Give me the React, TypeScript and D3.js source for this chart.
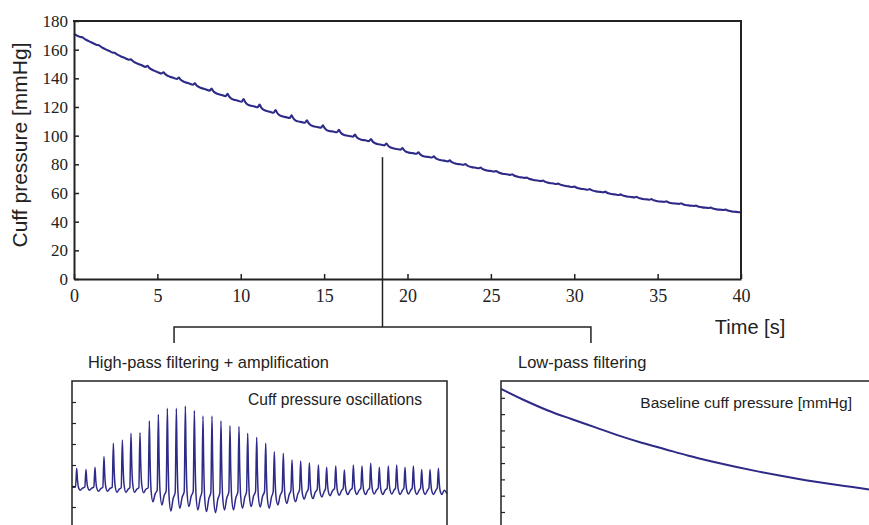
import { useEffect, useRef } from "react";
import * as d3 from "d3";

// smooth cuff pressure (s, mmHg)
const baseTimes = [0, 2.5, 5, 7.5, 10, 12.5, 15, 17.5, 20, 22.5, 25, 27.5, 30, 32.5, 35, 37.5, 40];
const basePressure = [171, 157, 144.5, 134, 124, 114, 105, 97, 89, 82, 75.5, 69.5, 64, 59, 54.5, 50.5, 46.5];

// time of every oscillation peak (s)
const beatTimes = [
  0.5, 1.49, 2.45, 3.41, 4.41, 5.37, 6.29, 7.25, 8.25, 9.21, 10.17, 11.13, 12.09, 13.05,
  13.97, 14.93, 15.89, 16.85, 17.81, 18.74, 19.7, 20.66, 21.58, 22.54, 23.47, 24.39, 25.32,
  26.28, 27.16, 28.13, 29.05, 30.01, 30.93, 31.86, 32.78, 33.74, 34.63, 35.52, 36.41, 37.3,
  38.19, 39.08,
];
// oscillation peak height and the trough after it (tick units)
const beatPeaks = [
  0.84, 0.79, 0.89, 1.4, 2.03, 2.19, 2.51, 2.54, 3.1, 3.41, 3.7, 3.7, 3.81, 3.59, 3.33, 3.33,
  3.1, 2.87, 2.83, 2.51, 2.32, 2.03, 1.63, 1.56, 1.24, 1.19, 1.11, 1.0, 0.89, 0.95, 0.76, 1.0,
  0.95, 1.08, 0.89, 0.95, 1.0, 0.89, 0.95, 0.79, 0.79, 0.84,
];
const beatTroughs = [
  -0.2, -0.2, -0.25, -0.25, -0.3, -0.3, -0.3, -0.32, -0.75, -0.9, -1.19, -1.06, -0.98, -1.14,
  -1.22, -1.27, -1.14, -1.14, -1.06, -0.98, -1.0, -1.06, -0.9, -0.83, -0.75, -0.62, -0.6,
  -0.52, -0.46, -0.44, -0.4, -0.4, -0.4, -0.38, -0.4, -0.38, -0.4, -0.38, -0.4, -0.4, -0.4, -0.4,
];

// shape of one pulse: [offset from peak (s), weight of peak, of trough, of previous trough]
const pulseShape = [
  [-0.12, 0, 0, 0.25],
  [0, 1, 0, 0],
  [0.08, 0.5, 0.5, 0],
  [0.18, 0.15, 0.85, 0],
  [0.38, 0, 1, 0],
  [0.62, 0, 0.5, 0],
];

const timeTicks = [0, 5, 10, 15, 20, 25, 30, 35, 40];
const pressureTicks = [0, 20, 40, 60, 80, 100, 120, 140, 160, 180];
const oscTicks = [-1, 0, 1, 2, 3, 4];
const baselineTicks = [20, 40, 60, 80, 100, 120, 140, 160];

const rippleGain = 0.6; // mmHg per oscillation unit on the raw trace
const markerTime = 18.5;

const INK = "#222";
const TRACE = "#2e2a88";
const SANS = "'Liberation Sans', Arial, sans-serif";
const SERIF = "'Liberation Serif', 'Times New Roman', serif";

const App = () => {
  const ref = useRef(null);

  useEffect(() => {
    const root = d3.select(ref.current);
    root.selectAll("*").remove();
    const svg = root
      .append("svg")
      .attr("width", 869)
      .attr("height", 525)
      .style("position", "absolute")
      .style("left", "0px")
      .style("top", "0px");

    // oscillation points built from the beats
    const osc: [number, number][] = [[0, -0.06]];
    beatTimes.forEach((tp, i) => {
      const prevT = i > 0 ? beatTroughs[i - 1] : beatTroughs[0];
      pulseShape.forEach(([dt, wp, wt, wprev]) => {
        osc.push([tp + dt, wp * beatPeaks[i] + wt * beatTroughs[i] + wprev * prevT]);
      });
    });
    osc.push([40, -0.37]);

    const baseAt = d3.scaleLinear().domain(baseTimes).range(basePressure);
    const raw: [number, number][] = osc.map(([t, v]) => [t, baseAt(t) + rippleGain * v]);
    raw[0] = [0, basePressure[0]];
    raw[raw.length - 1] = [40, basePressure[basePressure.length - 1]];

    // ==== top plot
    const x = d3.scaleLinear().domain([0, 40]).range([74, 741]);
    const y = d3.scaleLinear().domain([0, 180]).range([279, 21]);

    svg
      .append("path")
      .datum(raw)
      .attr("fill", "none")
      .attr("stroke", TRACE)
      .attr("stroke-width", 2.1)
      .attr("stroke-linejoin", "round")
      .attr(
        "d",
        d3
          .line()
          .x((d) => x(d[0]))
          .y((d) => y(d[1]))
          .curve(d3.curveMonotoneX)
      );

    const yAxis = svg
      .append("g")
      .attr("transform", `translate(74,0)`)
      .call(d3.axisLeft(y).tickValues(pressureTicks).tickSizeInner(-5).tickSizeOuter(0).tickPadding(6));
    const xAxis = svg
      .append("g")
      .attr("transform", `translate(0,279)`)
      .call(d3.axisBottom(x).tickValues(timeTicks).tickSizeInner(-5).tickSizeOuter(0).tickPadding(10));
    [yAxis, xAxis].forEach((g) => {
      g.attr("font-family", SERIF);
      g.select(".domain").attr("stroke", INK).attr("stroke-width", 2);
      g.selectAll(".tick line").attr("stroke", INK).attr("stroke-width", 1.5);
      g.selectAll(".tick text").attr("fill", INK);
    });
    yAxis.attr("font-size", 17);
    xAxis.attr("font-size", 18);

    svg.append("line").attr("x1", 73).attr("x2", 742).attr("y1", 21).attr("y2", 21).attr("stroke", INK).attr("stroke-width", 2);
    svg.append("line").attr("x1", 741).attr("x2", 741).attr("y1", 21).attr("y2", 279).attr("stroke", INK).attr("stroke-width", 2);

    svg
      .append("text")
      .text("Cuff pressure [mmHg]")
      .attr("transform", "translate(27,145) rotate(-90)")
      .attr("text-anchor", "middle")
      .attr("font-family", SANS)
      .attr("font-size", 21)
      .attr("fill", INK);

    svg
      .append("text")
      .text("Time [s]")
      .attr("x", 750)
      .attr("y", 334)
      .attr("text-anchor", "middle")
      .attr("font-family", SANS)
      .attr("font-size", 20)
      .attr("fill", INK);

    // ==== bracket
    const bracket = svg.append("g").attr("fill", "none").attr("stroke", INK).attr("stroke-width", 1.5);
    bracket.append("line").attr("x1", x(markerTime)).attr("x2", x(markerTime)).attr("y1", y(85)).attr("y2", 327);
    bracket
      .append("path")
      .attr("d", `M${x(6)},343V327H${x(31)}V343`);

    svg
      .append("text")
      .text("High-pass filtering + amplification")
      .attr("x", 88)
      .attr("y", 368)
      .attr("font-family", SANS)
      .attr("font-size", 16.4)
      .attr("fill", INK);
    svg
      .append("text")
      .text("Low-pass filtering")
      .attr("x", 518)
      .attr("y", 368)
      .attr("font-family", SANS)
      .attr("font-size", 16.5)
      .attr("fill", INK);

    // ==== oscillation panel
    const ox = d3.scaleLinear().domain([0, 40]).range([72, 447]);
    const oy = d3.scaleLinear().domain([-2, 5]).range([528, 381]);
    svg
      .append("path")
      .datum(osc)
      .attr("fill", "none")
      .attr("stroke", TRACE)
      .attr("stroke-width", 1.5)
      .attr("stroke-linejoin", "round")
      .attr(
        "d",
        d3
          .line()
          .x((d) => ox(d[0]))
          .y((d) => oy(d[1]))
          .curve(d3.curveMonotoneX)
      );
    const oAxis = svg
      .append("g")
      .attr("transform", "translate(72,0)")
      .call(d3.axisLeft(oy).tickValues(oscTicks).tickSizeInner(-4).tickSizeOuter(0).tickFormat(() => ""));
    oAxis.select(".domain").remove();
    oAxis.selectAll(".tick line").attr("stroke", INK).attr("stroke-width", 1.2);
    svg
      .append("path")
      .attr("d", `M72,528V381H447V528`)
      .attr("fill", "none")
      .attr("stroke", INK)
      .attr("stroke-width", 1.5);
    svg
      .append("text")
      .text("Cuff pressure oscillations")
      .attr("x", 422)
      .attr("y", 405)
      .attr("text-anchor", "end")
      .attr("font-family", SANS)
      .attr("font-size", 15.6)
      .attr("fill", INK);

    // ==== baseline panel
    const bx = d3.scaleLinear().domain([0, 40]).range([501, 876]);
    const by = d3.scaleLinear().domain([0, 180]).range([528.3, 381.5]);
    svg
      .append("path")
      .datum(baseTimes.map((t, i) => [t, basePressure[i]]))
      .attr("fill", "none")
      .attr("stroke", TRACE)
      .attr("stroke-width", 2)
      .attr(
        "d",
        d3
          .line()
          .x((d) => bx(d[0]))
          .y((d) => by(d[1]))
          .curve(d3.curveMonotoneX)
      );
    const bAxis = svg
      .append("g")
      .attr("transform", "translate(501,0)")
      .call(d3.axisLeft(by).tickValues(baselineTicks).tickSizeInner(-4).tickSizeOuter(0).tickFormat(() => ""));
    bAxis.select(".domain").remove();
    bAxis.selectAll(".tick line").attr("stroke", INK).attr("stroke-width", 1.2);
    svg
      .append("path")
      .attr("d", `M501,528V381H880`)
      .attr("fill", "none")
      .attr("stroke", INK)
      .attr("stroke-width", 1.5);
    svg
      .append("text")
      .text("Baseline cuff pressure [mmHg]")
      .attr("x", 852)
      .attr("y", 408)
      .attr("text-anchor", "end")
      .attr("font-family", SANS)
      .attr("font-size", 15.5)
      .attr("fill", INK);
  }, []);

  return <div ref={ref}></div>;
};

export default App;
